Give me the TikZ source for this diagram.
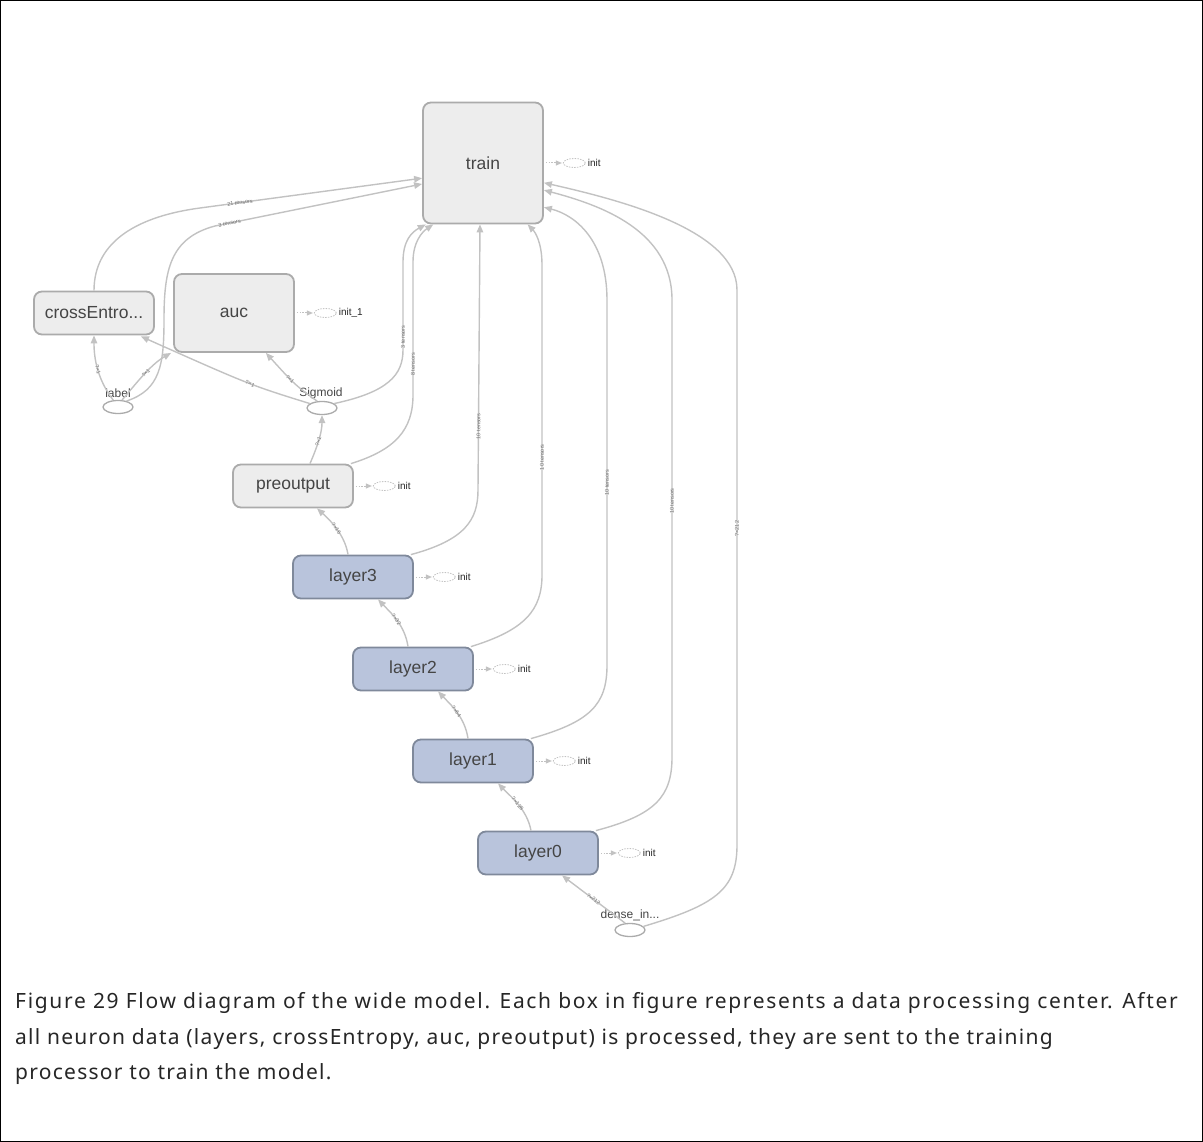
\documentclass[tikz,border=0pt]{standalone}
\usepackage{fontspec}
\setmainfont{Liberation Sans}
\newfontfamily\capfont[LetterSpace=6]{Noto Sans}
\newfontfamily\capwidefont[LetterSpace=8]{Noto Sans}
\usetikzlibrary{arrows.meta,positioning,shapes.geometric}

\definecolor{edgegray}{HTML}{C2C2C2}
\definecolor{boxfill}{HTML}{EDEDED}
\definecolor{boxline}{HTML}{ABABAB}
\definecolor{layfill}{HTML}{B9C4DC}
\definecolor{layline}{HTML}{7F899B}
\definecolor{txt}{HTML}{454545}
\definecolor{lbl}{HTML}{707070}

\tikzset{
  opbox/.style={draw=boxline, fill=boxfill, line width=1.8pt, rounded corners=8pt,
    minimum width=120pt, minimum height=43pt, inner sep=0pt,
    font=\fontsize{17.5}{20}\selectfont, text=txt},
  laybox/.style={opbox, draw=layline, fill=layfill},
  port/.style={ellipse, draw=boxline, line width=1.3pt, minimum width=30pt,
    minimum height=13pt, inner sep=0pt},
  porttext/.style={font=\fontsize{12}{14}\selectfont, text=txt, inner sep=0pt},
  flow/.style={draw=edgegray, line width=1.4pt, -{Triangle[length=8pt,width=6.5pt]}},
  elabel/.style={font=\fontsize{5.5}{6}\selectfont, text=lbl, sloped, inner sep=0.5pt},
  initell/.style={ellipse, draw=edgegray, dash pattern=on 1.5pt off 1.2pt, line width=0.8pt,
    minimum width=22pt, minimum height=9pt, inner sep=0pt},
  initarrow/.style={draw=edgegray, dash pattern=on 1.5pt off 1.2pt, line width=1pt,
    -{Triangle[length=6pt,width=5pt]}},
  inittext/.style={font=\fontsize{10}{12}\selectfont, text=black!85, inner sep=0pt},
  captext/.style={font=\capfont\fontsize{21}{26}\selectfont, text=black!85, inner sep=0pt, anchor=base west}
}

% dotted link from an op to its small "init" placeholder
\newcommand\initmark[2]{%
  \node[initell, right=19pt of #1.east] (#1i) {};
  \draw[initarrow] ([xshift=2pt]#1.east) -- ([xshift=-1pt]#1i.west);
  \node[inittext, anchor=west, right=2pt of #1i.east] {#2};
}

\begin{document}
\begin{tikzpicture}[x=1pt, y=-1pt]
\useasboundingbox (0,0) rectangle (1203,1142);
\draw[black, line width=1.3pt] (0.7,0.7) rectangle (1202.3,1141.3);

% ---- ops ----
\node[opbox, minimum height=121pt] (train) at (483,163) {train};
\node[opbox] (ce) at (94,313) {crossEntro...};
\node[opbox, minimum height=78pt] (auc) at (234,313) {auc};
\node[opbox] (pre) at (293,486) {preoutput};
\node[laybox] (l3) at (353,577) {layer3};
\node[laybox] (l2) at (413,669) {layer2};
\node[laybox] (l1) at (473,761) {layer1};
\node[laybox] (l0) at (538,853) {layer0};

% ---- placeholders / inputs ----
\node[port] (label) at (118,407) {};
\node[porttext] (labelT) at (118,393) {label};
\node[port] (sig) at (322,408) {};
\node[porttext] (sigT) at (321,393) {Sigmoid};
\node[port] (dense) at (630,930) {};
\node[porttext] (denseT) at (630,915) {dense\_in...};

% ---- init markers ----
\initmark{train}{init}
\initmark{auc}{init\_1}
\initmark{pre}{init}
\initmark{l3}{init}
\initmark{l2}{init}
\initmark{l1}{init}
\initmark{l0}{init}

% ---- data flow into train ----
\draw[flow] (ce.north) .. controls (94,240) and (140,216) .. (200,208)
  -- node[elabel, pos=0.18] {21 tensors} (train.194);
\draw[flow] (label.35) .. controls (160,390) and (164,365) .. (164,320)
  .. controls (164,270) and (170,238) .. (215,226)
  -- node[elabel, pos=0.07] {3 tensors} (train.199);
\draw[flow] (sig.20) .. controls (388,392) and (403,375) .. (403,350)
  -- node[elabel, pos=0.15] {3 tensors} (403,262)
  .. controls (403,240) and (412,232) .. (train.227);
\draw[flow] ([xshift=-3pt]pre.north east) .. controls (395,450) and (413,430) .. (413,395)
  -- node[elabel, pos=0.23] {8 tensors} (413,262)
  .. controls (413,242) and (422,232) .. (train.231);
\draw[flow] ([xshift=-3pt]l3.north east) .. controls (465,540) and (478,520) .. (478,490)
  -- node[elabel, pos=0.24] {10 tensors} ([xshift=-3pt]train.south);
\draw[flow] ([xshift=-3pt]l2.north east) .. controls (525,630) and (542,610) .. (542,575)
  -- node[elabel, pos=0.38] {10 tensors} (542,265)
  .. controls (542,242) and (535,232) .. (train.306);
\draw[flow] ([xshift=-3pt]l1.north east) .. controls (590,722) and (607,705) .. (607,665)
  -- node[elabel, pos=0.5] {10 tensors} (607,300)
  .. controls (607,240) and (575,215) .. (train.324);
\draw[flow] ([xshift=-3pt]l0.north east) .. controls (655,815) and (672,797) .. (672,757)
  -- node[elabel, pos=0.56] {10 tensors} (672,300)
  .. controls (672,230) and (600,205) .. (train.336);
\draw[flow] (dense.15) .. controls (715,905) and (737,890) .. (737,845)
  -- node[elabel, pos=0.57] {?×212} (737,290)
  .. controls (737,230) and (620,200) .. (train.342);

% ---- data flow between ops ----
\draw[flow] (label.125) .. controls (98,380) and (94,360) .. node[elabel, pos=0.5] {?×1} (ce.south);
\draw[flow] (label.60) .. controls (135,385) and (150,365) .. node[elabel, pos=0.55] {?×1} ([xshift=-2pt]auc.south west);
\draw[flow] (sig.160) .. controls (250,385) .. node[elabel, pos=0.45] {?×1} ([xshift=-14pt,yshift=-1pt]ce.south east);
\draw[flow] (sig.125) .. controls (295,385) .. node[elabel, pos=0.6] {?×1} ([xshift=-29pt]auc.south east);
\draw[flow] ([xshift=17pt]pre.north) .. controls (318,445) and (322,432) .. node[elabel, pos=0.45] {?×1} (sig.south);
\draw[flow] ([xshift=-5pt]l3.north) .. controls (345,535) and (330,520) .. node[elabel, pos=0.5] {?×16} ([xshift=24pt]pre.south);
\draw[flow] ([xshift=-5pt]l2.north) .. controls (405,625) and (390,612) .. node[elabel, pos=0.5] {?×32} ([xshift=25pt]l3.south);
\draw[flow] ([xshift=-5pt]l1.north) .. controls (465,717) and (450,704) .. node[elabel, pos=0.5] {?×64} ([xshift=25pt]l2.south);
\draw[flow] ([xshift=-7pt]l0.north) .. controls (527,809) and (510,796) .. node[elabel, pos=0.5] {?×128} ([xshift=25pt]l1.south);
\draw[flow] (dense.125) -- node[elabel, pos=0.5] {?×212} ([xshift=24pt]l0.south);

% ---- caption ----
\node[captext, font=\capwidefont\fontsize{21}{26}\selectfont] (cap1) at (15,1008) {Figure 29 Flow diagram of the wide model. Each box in figure represents a data processing center. After};
\node[captext] (cap2) at (15,1044) {all neuron data (layers, crossEntropy, auc, preoutput) is processed, they are sent to the training};
\node[captext] (cap3) at (15,1079) {processor to train the model.};
\end{tikzpicture}
\end{document}
